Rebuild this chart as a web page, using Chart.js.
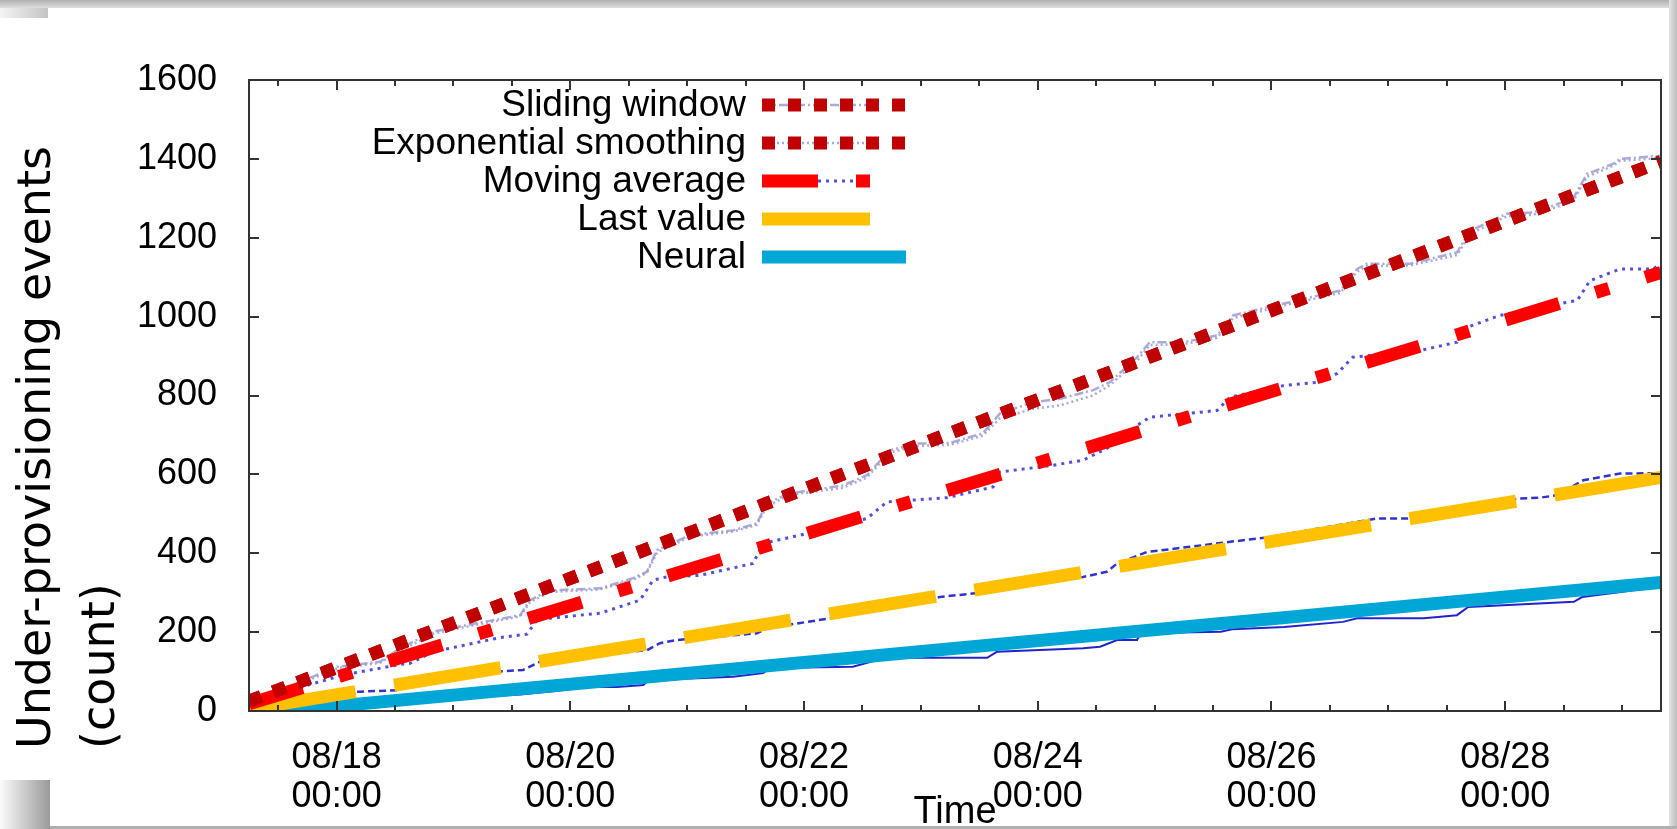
<!DOCTYPE html>
<html>
<head>
<meta charset="utf-8">
<title>Under-provisioning events</title>
<script src="https://cdn.jsdelivr.net/npm/chart.js"></script>
<style>
  html, body { margin: 0; padding: 0; background: #fff; }
  body { width: 1677px; height: 829px; position: relative; overflow: hidden; }
  .shade { position: absolute; }
  #topBand { left: 0; top: 0; width: 1677px; height: 8px; background: linear-gradient(#b0b0b0, #dedede); }
  #topLeft { left: 0; top: 8px; width: 48px; height: 10px; background: linear-gradient(to right, #f4f4f4, #c4c4c4); }
  #rightBand { right: 0; top: 0; width: 8px; height: 829px; background: linear-gradient(to right, #e4e4e4, #bcbcbc); }
  #bottomBand { left: 0; bottom: 0; width: 1677px; height: 3px; background: #b0b0b0; }
  #bottomLeft { left: 0; top: 780px; width: 50px; height: 49px; background: linear-gradient(to right, #fbfbfb, #9a9a9a); }
  #wrap { position: absolute; left: 0; top: 0; width: 1677px; height: 829px; }
</style>
</head>
<body>
<div class="shade" id="topBand"></div>
<div class="shade" id="topLeft"></div>
<div class="shade" id="rightBand"></div>
<div class="shade" id="bottomBand"></div>
<div class="shade" id="bottomLeft"></div>
<div id="wrap"><canvas id="underChart" width="1677" height="829"></canvas></div>

<script>
  // x values are hours since 08/17 00:00
  const xTickHours = [24, 72, 120, 168, 216, 264];
  const xTickDates = ["08/18", "08/20", "08/22", "08/24", "08/26", "08/28"];
  const xTickTimes = ["00:00", "00:00", "00:00", "00:00", "00:00", "00:00"];

  // observed cumulative counts
  const upperHours = [6, 7.6, 16.5, 24.1, 32.9, 37, 43.8, 50.8, 61.7, 63.7, 67.8, 78.1, 84.9, 87.7, 89.8,
    96.6, 105.4, 110.3, 112.4, 117.1, 128, 132.9, 137.6, 143.2, 150, 156.7, 160.2, 167, 172.6, 179.3,
    182.8, 188.4, 191, 197.8, 204.8, 208.1, 218.4, 230.1, 233.6, 235.6, 244.5, 254.1, 256.8, 264.4, 269.7,
    277.9, 280.8, 286.1, 287.6, 296];
  const slidingCounts = [8, 20, 74, 112, 125, 159, 201, 218, 243, 281, 306, 311, 337, 353, 408,
    446, 458, 476, 527, 552, 572, 598, 661, 678, 680, 704, 754, 783, 792, 813,
    834, 897, 935, 935, 952, 1003, 1033, 1066, 1121, 1134, 1134, 1163, 1218, 1261, 1264,
    1299, 1362, 1387, 1400, 1408];
  const smoothingCounts = [6, 18, 70, 108, 122, 152, 196, 214, 240, 276, 302, 308, 333, 350, 402,
    442, 455, 472, 520, 548, 566, 592, 655, 672, 675, 698, 742, 766, 775, 800,
    826, 888, 928, 930, 946, 996, 1028, 1060, 1114, 1128, 1130, 1156, 1210, 1255, 1258,
    1292, 1355, 1382, 1395, 1402];

  const movingHours = [6, 10.3, 16.5, 25.3, 37, 39.1, 43.8, 57.5, 63.1, 65.2, 78.1, 86.3, 89, 91.8, 98.6,
    109.5, 111.6, 120.6, 132.9, 137, 149.4, 158.8, 160.2, 171.1, 177.3, 182.2, 189, 191, 204.8, 207.5,
    218.4, 226, 229.5, 232.7, 246.5, 254.1, 256.2, 262.9, 275.3, 278.8, 281.4, 287.6, 294.4, 296];
  const movingCounts = [5, 40, 60, 91, 118, 121, 150, 186, 195, 232, 248, 281, 332, 340, 344,
    374, 425, 450, 488, 530, 541, 568, 606, 623, 636, 666, 729, 745, 762, 796,
    825, 834, 856, 897, 914, 935, 973, 1003, 1033, 1041, 1091, 1121, 1121, 1134];

  const lastHours = [6, 16.5, 23.3, 28.8, 37, 39.7, 57.5, 62.3, 66.4, 87.7, 90.4, 93.9, 110.3, 112.4, 127.4, 130,
    147.9, 157.6, 177.3, 182.2, 184.3, 190.4, 207.5, 215.1, 237.5, 245.1, 267, 271.2, 274.6, 280, 287.6, 296];
  const lastCounts = [0, 25, 45, 49, 53, 80, 100, 104, 129, 154, 172, 180, 197, 210, 239, 248,
    289, 302, 340, 353, 374, 403, 429, 440, 488, 488, 539, 541, 547, 585, 602, 603];

  const neuralHours = [6, 16.5, 37, 49.3, 61.7, 69.9, 73.4, 81.6, 87, 88, 105.4, 111.6, 113, 130, 135, 135.6,
    157.6, 159.6, 177.3, 180.8, 184.3, 188.4, 189, 205.6, 207.9, 218.6, 230.7, 233.6, 247.3, 254.1, 256.4,
    278.1, 279.8, 296];
  const neuralCounts = [0, 12, 25, 34, 42, 52, 61, 61, 66, 78, 87, 96, 109, 112, 129, 135,
    135, 150, 159, 163, 180, 180, 197, 201, 207, 213, 226, 235, 235, 243, 264,
    277, 289, 315];

  // straight-line fits (start, end)
  const fitHours = [6, 296];
  const slidingFit = [25, 1393];
  const smoothingFit = [25, 1393];
  const movingFit = [18, 1112];
  const lastFit = [5, 592];
  const neuralFit = [-8, 326];

  const pts = (xs, ys) => xs.map((h, i) => ({ x: h, y: ys[i] }));

  // pairs: thick fit line, thin observed line
  const datasets = [
    { label: "Sliding window", data: pts(fitHours, slidingFit), borderColor: "#c00000", borderWidth: 13, borderDash: [13, 13], order: 1 },
    { label: "", data: pts(upperHours, slidingCounts), borderColor: "rgba(150,150,205,0.8)", borderWidth: 2.5, borderDash: [9, 3, 2, 3], order: 5 },
    { label: "Exponential smoothing", data: pts(fitHours, smoothingFit), borderColor: "#c00000", borderWidth: 13, borderDash: [13, 13], order: 1 },
    { label: "", data: pts(upperHours, smoothingCounts), borderColor: "rgba(140,140,210,0.75)", borderWidth: 2.5, borderDash: [2, 3], order: 5 },
    { label: "Moving average", data: pts(fitHours, movingFit), borderColor: "#ff0000", borderWidth: 13, borderDash: [56, 38, 14, 38], order: 2 },
    { label: "", data: pts(movingHours, movingCounts), borderColor: "rgb(80,80,220)", borderWidth: 3, borderDash: [3, 5], order: 5 },
    { label: "Last value", data: pts(fitHours, lastFit), borderColor: "#ffc000", borderWidth: 13, borderDash: [108, 39], order: 3 },
    { label: "", data: pts(lastHours, lastCounts), borderColor: "rgb(50,50,205)", borderWidth: 2.5, borderDash: [7, 4], order: 5 },
    { label: "Neural", data: pts(fitHours, neuralFit), borderColor: "#00a6d6", borderWidth: 13, borderDash: [], order: 4 },
    { label: "", data: pts(neuralHours, neuralCounts), borderColor: "rgb(35,35,205)", borderWidth: 2, borderDash: [], order: 5 }
  ];

  const tickFont = { family: "'Liberation Sans', Arial, sans-serif", size: 36, lineHeight: 1.0833 };

  // gnuplot style frame, inward ticks, key and titles
  const gnuFrame = {
    id: "gnuFrame",
    afterDraw(chart) {
      const { ctx, chartArea: a, scales: { x, y } } = chart;
      ctx.save();
      ctx.strokeStyle = "#333";
      ctx.lineWidth = 2;
      ctx.strokeRect(a.left, a.top, a.right - a.left, a.bottom - a.top);
      ctx.beginPath();
      for (let h = 12; h < x.max; h += 12) {
        const px = Math.round(x.getPixelForValue(h));
        const len = xTickHours.includes(h) ? 10 : 6;
        ctx.moveTo(px, a.bottom); ctx.lineTo(px, a.bottom - len);
        ctx.moveTo(px, a.top); ctx.lineTo(px, a.top + len);
      }
      y.ticks.forEach(t => {
        const py = Math.round(y.getPixelForValue(t.value));
        ctx.moveTo(a.left, py); ctx.lineTo(a.left + 10, py);
        ctx.moveTo(a.right, py); ctx.lineTo(a.right - 10, py);
      });
      ctx.stroke();

      // key: thin sample is shorter than the thick one, as in gnuplot output
      ctx.font = "37px 'Liberation Sans', Arial, sans-serif";
      ctx.fillStyle = "#000";
      ctx.textAlign = "right";
      ctx.textBaseline = "middle";
      for (let i = 0; i < 5; i++) {
        const thick = chart.data.datasets[2 * i];
        const thin = chart.data.datasets[2 * i + 1];
        const ry = 105 + i * 38;
        ctx.fillText(thick.label, 746, ry + 1);
        [[thin, 870], [thick, 906]].forEach(([ds, end]) => {
          ctx.save();
          ctx.strokeStyle = ds.borderColor;
          ctx.lineWidth = ds.borderWidth;
          ctx.setLineDash(ds.borderDash);
          ctx.lineCap = "butt";
          ctx.beginPath();
          ctx.moveTo(762, ry); ctx.lineTo(end, ry);
          ctx.stroke();
          ctx.restore();
        });
      }

      // axis titles
      ctx.textAlign = "center";
      ctx.textBaseline = "alphabetic";
      ctx.font = "38px 'Liberation Sans', Arial, sans-serif";
      ctx.fillText("Time", (a.left + a.right) / 2, 823);

      ctx.font = "46px 'DejaVu Sans', sans-serif";
      ctx.textAlign = "left";
      [["Under-provisioning events", 50], ["(count)", 114]].forEach(([txt, bx]) => {
        ctx.save();
        ctx.translate(bx, 749);
        ctx.rotate(-Math.PI / 2);
        ctx.fillText(txt, 0, 0);
        ctx.restore();
      });
      ctx.restore();
    }
  };

  new Chart(document.getElementById("underChart"), {
    type: "line",
    data: { datasets: datasets },
    options: {
      responsive: false,
      animation: false,
      layout: { padding: { left: 0, right: 16, top: 80, bottom: 0 } },
      plugins: { legend: { display: false }, tooltip: { enabled: false } },
      elements: {
        point: { radius: 0 },
        line: { tension: 0, fill: false, borderCapStyle: "butt", borderJoinStyle: "miter" }
      },
      scales: {
        x: {
          type: "linear",
          min: 6,
          max: 296,
          grid: { display: false },
          border: { display: false },
          afterBuildTicks: ax => { ax.ticks = xTickHours.map(v => ({ value: v })); },
          afterFit: ax => { ax.height = 118; },
          ticks: {
            autoSkip: false,
            maxRotation: 0,
            padding: 19.5,
            color: "#000",
            font: tickFont,
            callback: v => {
              const i = xTickHours.indexOf(v);
              return [xTickDates[i], xTickTimes[i]];
            }
          }
        },
        y: {
          min: 0,
          max: 1600,
          grid: { display: false },
          border: { display: false },
          afterFit: ax => { ax.width = 249; },
          ticks: { stepSize: 200, padding: 24, color: "#000", font: tickFont, callback: v => String(v) }
        }
      }
    },
    plugins: [gnuFrame]
  });
</script>
</body>
</html>
